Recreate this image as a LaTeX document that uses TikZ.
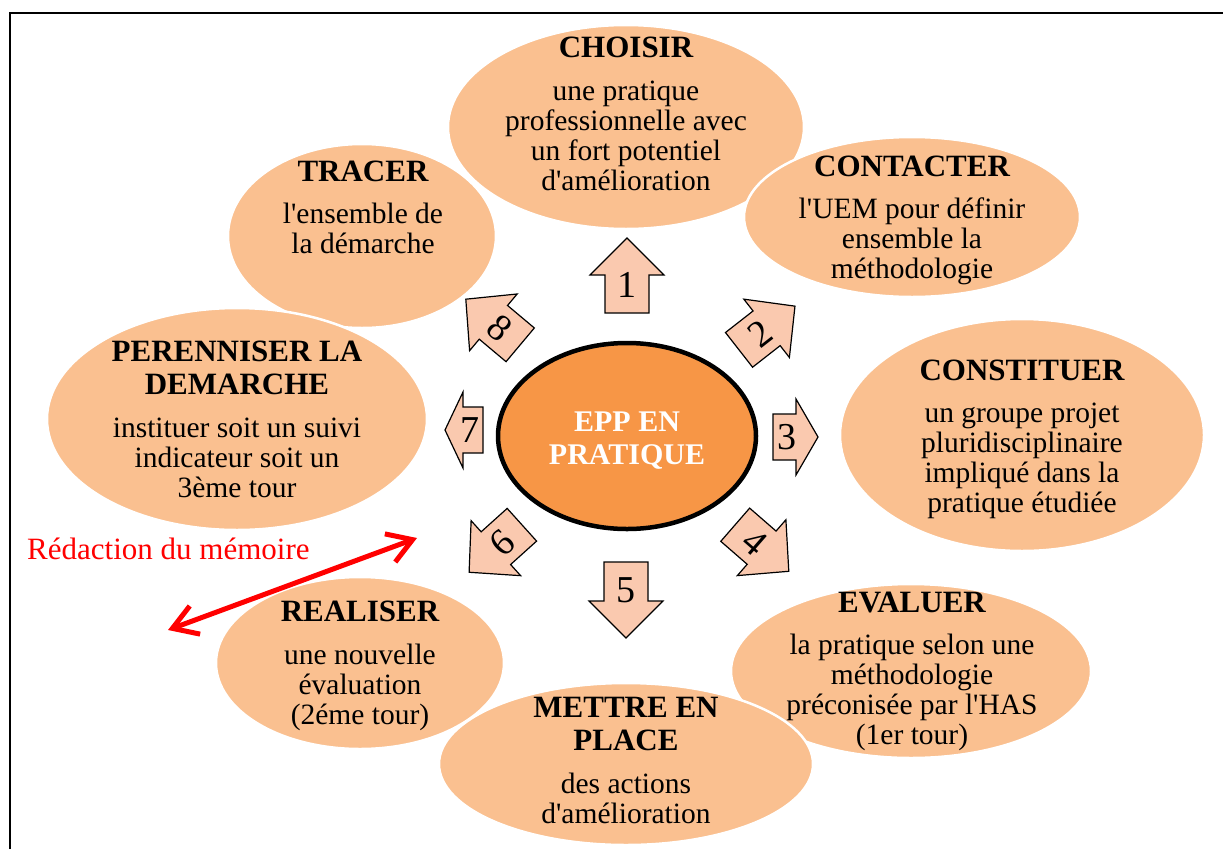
\documentclass[tikz,border=0pt]{standalone}
\usepackage{fontspec}
\setmainfont{Liberation Serif}
\usetikzlibrary{shapes.geometric,arrows.meta}
\definecolor{bubfill}{HTML}{FAC090}
\definecolor{arrfill}{HTML}{FAC9AF}
\definecolor{hubfill}{HTML}{F79646}
\newcommand\ap{\textquotesingle}
\tikzset{
 bub/.style={ellipse, fill=bubfill, draw=white, line width=2.5pt, inner sep=0pt},
 hub/.style={ellipse, fill=hubfill, draw=black, line width=4.5pt, inner sep=0pt},
 ttl/.style={font=\fontsize{31}{33}\selectfont\bfseries, inner sep=0pt},
 bdy/.style={font=\fontsize{29.5}{30}\selectfont, inner sep=0pt},
 num/.style={font=\fontsize{38}{38}\selectfont, inner sep=0pt},
 hubtxt/.style={font=\fontsize{30}{33}\selectfont\bfseries, text=white, inner sep=0pt},
 stepArrow/.style={fill=arrfill, draw=black, line width=1.2pt, line join=miter},
 redtxt/.style={font=\fontsize{31}{31}\selectfont, text=red, inner sep=0pt},
 redarrow/.style={draw=red, line width=5pt, line cap=round,
   arrows={Straight Barb[length=24pt,width=30pt]-Straight Barb[length=24pt,width=30pt]}},
 frameline/.style={draw=black, line width=1.5pt},
}
% #1 prefix, #2 style, #3 x, #4 first baseline, #5 step, #6 lines
\newcommand\txtlines[6]{%
  \foreach \t [count=\i] in {#6}{%
    \node[#2, anchor=base] (#1-\i) at (#3, {#4+(\i-1)*#5}) {\t};}}
% x y angle length headlength shafthalf headhalf
\newcommand\steparrow[7]{%
  \path[stepArrow, shift={(#1,#2)}, rotate=#3]
    ({-#4/2},-#6) -- ({#4/2-#5},-#6) -- ({#4/2-#5},-#7) -- ({#4/2},0)
    -- ({#4/2-#5},#7) -- ({#4/2-#5},#6) -- ({-#4/2},#6) -- cycle;}
\begin{document}
\begin{tikzpicture}[x=1pt,y=-1pt]
\useasboundingbox (0,0) rectangle (1223,849);
\draw[frameline] (10,849) -- (10,13) -- (1223,13);

% bubbles
\node[bub, minimum width=268, minimum height=184] (tracer) at (362,236) {};
\txtlines{tracerT}{ttl}{363}{181}{33}{TRACER}
\txtlines{tracerB}{bdy}{363}{223}{30.3}{{l\ap ensemble de},{la démarche}}

\node[bub, minimum width=356, minimum height=204] (choisir) at (626,127) {};
\txtlines{choisirT}{ttl}{626}{57}{33}{CHOISIR}
\txtlines{choisirB}{bdy}{626}{100}{30.3}{{une pratique},{professionnelle avec},{un fort potentiel},{d\ap amélioration}}

\node[bub, minimum width=336, minimum height=160] (contacter) at (912,217) {};
\txtlines{contacterT}{ttl}{912}{176}{33}{CONTACTER}
\txtlines{contacterB}{bdy}{912}{218}{30.3}{{l\ap UEM pour définir},{ensemble la},{méthodologie}}

\node[bub, minimum width=364, minimum height=232] (constituer) at (1022,435) {};
\txtlines{constituerT}{ttl}{1022}{380}{33}{CONSTITUER}
\txtlines{constituerB}{bdy}{1022}{422}{30.3}{{un groupe projet},{pluridisciplinaire},{impliqué dans la},{pratique étudiée}}

\node[bub, minimum width=380, minimum height=222] (perenniser) at (237,419) {};
\txtlines{perenniserT}{ttl}{237}{361}{33}{{PERENNISER LA},{DEMARCHE}}
\txtlines{perenniserB}{bdy}{237}{437}{30.3}{{instituer soit un suivi},{indicateur soit un},{3ème tour}}

\node[bub, minimum width=360, minimum height=174] (evaluer) at (911,671) {};
\txtlines{evaluerT}{ttl}{912}{612}{33}{EVALUER}
\txtlines{evaluerB}{bdy}{912}{654}{30.3}{{la pratique selon une},{méthodologie},{préconisée par l\ap HAS},{(1er tour)}}

\node[bub, minimum width=288, minimum height=172] (realiser) at (360,663) {};
\txtlines{realiserT}{ttl}{360}{621}{33}{REALISER}
\txtlines{realiserB}{bdy}{360}{664}{30.3}{{une nouvelle},{évaluation},{(2éme tour)}}

\node[bub, minimum width=374, minimum height=162] (mettre) at (626,764) {};
\txtlines{mettreT}{ttl}{626}{717}{33}{{METTRE EN},{PLACE}}
\txtlines{mettreB}{bdy}{626}{793}{30.3}{{des actions},{d\ap amélioration}}

% hub
\node[hub, minimum width=258, minimum height=186] (hub) at (627,436) {};
\txtlines{hubT}{hubtxt}{627}{431}{33}{{EPP EN},{PRATIQUE}}

% step arrows
\steparrow{627}{275.5}{90}{75}{37}{22}{37}
\steparrow{767}{328}{38}{71}{36}{22}{37}
\steparrow{795.5}{437}{0}{45}{22}{23}{38}
\steparrow{762}{548}{-41}{71}{36}{22}{37}
\steparrow{626}{600}{-90}{76}{37}{22}{37}
\steparrow{495.5}{548.5}{222}{71}{36}{22}{37}
\steparrow{464}{430}{180}{38}{18}{23}{38}
\steparrow{493}{322}{140}{71}{36}{22}{37}
\node[num] (n1) at (627,285) {1};
\node[num, rotate=38] (n2) at (760,333.5) {2};
\node[num] (n3) at (786.5,437) {3};
\node[num, rotate=-41] (n4) at (755,542) {4};
\node[num] (n5) at (626,590) {5};
\node[num, rotate=42] (n6) at (502,542.5) {6};
\node[num] (n7) at (470,430) {7};
\node[num, rotate=-40] (n8) at (500,328) {8};

% red annotation
\node[redtxt, anchor=base west] (redac) at (27,559) {Rédaction du mémoire};
\coordinate (redA) at (168,630);
\coordinate (redB) at (417,538);
\draw[redarrow] (redA) -- (redB);
\end{tikzpicture}
\end{document}
